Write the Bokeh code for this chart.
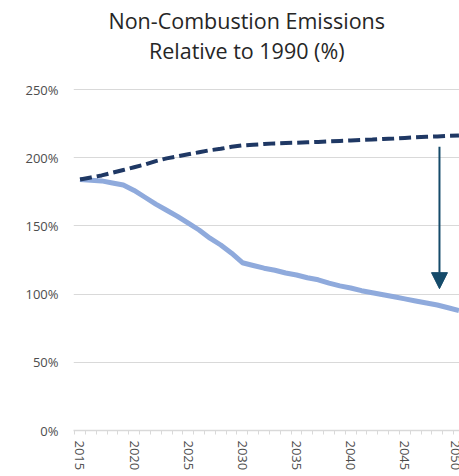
from bokeh.plotting import figure
from bokeh.models import (ColumnDataSource, Range1d, FixedTicker, CustomJSTickFormatter,
                          Label, Arrow, NormalHead)
from bokeh.embed import file_html
from bokeh.resources import INLINE

# ---------------- data ----------------
years = list(range(2015, 2051))
bau = [184, 185.5, 187, 189, 191, 193, 195, 197.5, 199.5, 201, 202.5, 204, 205.5, 206.5,
       208, 209, 209.5, 210, 210.5, 210.8, 211, 211.3, 211.6, 212, 212.3, 212.6, 213,
       213.3, 213.7, 214, 214.5, 215, 215.3, 215.6, 216, 216.3]
policy = [184, 183.5, 183, 181.5, 180, 176, 171, 166, 161.5, 157, 152, 147, 141, 136,
          130, 123, 121, 119, 117.5, 115.5, 114, 112, 110.5, 108, 106, 104.5, 102.5, 101,
          99.5, 98, 96.5, 95, 93.5, 92, 90, 88]
major_years = [2015, 2020, 2025, 2030, 2035, 2040, 2045, 2050]
y_ticks = [0, 50, 100, 150, 200, 250]
title_lines = ["Non-Combustion Emissions", "Relative to 1990 (%)"]
arrow_year = 2048.2
arrow_from = 208
arrow_to = 104

src = ColumnDataSource(dict(year=years, bau=bau, policy=policy))

# frame runs to the top of the canvas so the title can sit inside it
p = figure(width=459, height=476, output_backend="svg", toolbar_location=None,
           x_range=Range1d(2014.4, 2050.05), y_range=Range1d(0, 315.25),
           min_border_left=73, min_border_right=0, min_border_top=0, min_border_bottom=46)
p.outline_line_color = None
p.background_fill_color = "white"
p.border_fill_color = "white"

# lines
p.line("year", "policy", source=src, line_color="#8FAADC", line_width=5)
p.line("year", "bau", source=src, line_color="#1F3864", line_width=4, line_dash="12 5")

# axes
p.xgrid.visible = False
p.ygrid.grid_line_color = "#D9D9D9"
p.ygrid.grid_line_width = 1
p.ygrid.ticker = FixedTicker(ticks=y_ticks)

xa = p.xaxis[0]
xa.ticker = FixedTicker(ticks=major_years, minor_ticks=[y - 0.5 for y in years] + [2050.5])
xa.axis_line_color = "#D9D9D9"
xa.axis_line_width = 1.5
xa.major_tick_out = 0
xa.major_tick_in = 0
xa.minor_tick_out = 4
xa.minor_tick_in = 0
xa.minor_tick_line_color = "#D9D9D9"
xa.major_label_orientation = "vertical"
xa.major_label_standoff = 6
xa.major_label_text_font = "Open Sans"
xa.major_label_text_font_size = "13px"
xa.major_label_text_color = "#4D4D4D"

ya = p.yaxis[0]
ya.ticker = FixedTicker(ticks=y_ticks)
ya.formatter = CustomJSTickFormatter(code="return tick + '%';")
ya.axis_line_color = None
ya.major_tick_out = 0
ya.major_tick_in = 0
ya.minor_tick_out = 0
ya.minor_tick_in = 0
ya.major_label_standoff = 15
ya.major_label_text_font = "Open Sans"
ya.major_label_text_font_size = "13px"
ya.major_label_text_color = "#4D4D4D"

# title, two centred lines
for txt, yy in zip(title_lines, [300.6, 278.6]):
    p.add_layout(Label(x=2030.4, y=yy, text=txt, text_align="center", text_baseline="middle",
                       text_font="Open Sans", text_font_size="21.5px", text_color="#262626"))

# arrow
p.add_layout(Arrow(x_start=arrow_year, y_start=arrow_from, x_end=arrow_year, y_end=arrow_to,
                   line_color="#154B6A", line_width=2,
                   end=NormalHead(size=16, fill_color="#154B6A", line_color="#154B6A")))

open("out.html", "w").write(file_html(p, INLINE))
